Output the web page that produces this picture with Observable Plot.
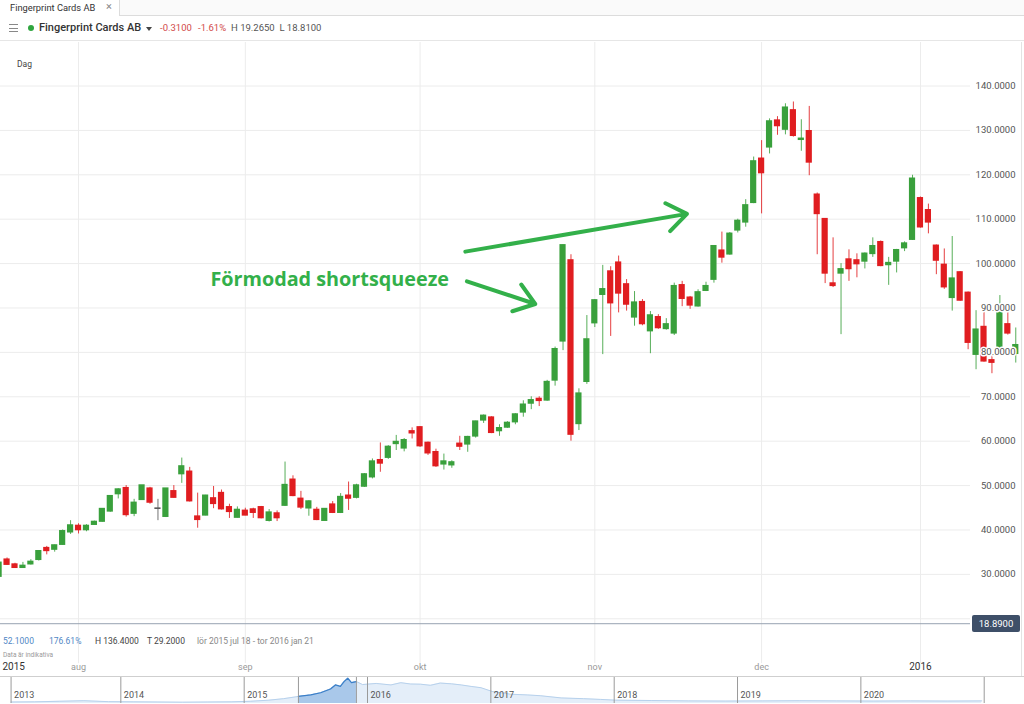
<!DOCTYPE html>
<html><head><meta charset="utf-8">
<script src="https://cdn.jsdelivr.net/npm/d3@7"></script>
<script src="https://cdn.jsdelivr.net/npm/@observablehq/plot@0.6"></script>
<style>
html,body{margin:0;padding:0;background:#fff;}
body{width:1024px;height:704px;overflow:hidden;position:relative;font-family:Roboto,"Open Sans",sans-serif;}
.abs{position:absolute;white-space:nowrap;}
#tabbar{left:0;top:0;width:1024px;height:15px;background:#fafafa;border-bottom:1px solid #dcdcdc;}
#tab{left:0;top:0;width:119px;height:16px;background:#fff;border-right:1px solid #dcdcdc;}
#hdrline{left:0;top:40px;width:1024px;height:1px;background:#e6e6e6;}
.bar{position:absolute;left:9px;width:9px;height:1.3px;background:#888;}
#main{left:0;top:42px;}
#nav{left:0;top:677px;}
#navtop{left:0;top:676px;width:1024px;height:1px;background:#cfcfcf;}
#rightline{left:1021px;top:42px;width:1px;height:634px;background:#e3e3e3;}
#tag{left:972px;width:48px;height:17px;background:#3e4f68;color:#fff;font-size:9.5px;line-height:17px;text-align:center;border-radius:2px;}
.info{top:636px;font-size:8.5px;}
</style></head>
<body>
<div id="tabbar" class="abs"></div>
<div id="tab" class="abs">
  <span class="abs" style="left:10px;top:1.5px;font-size:9.3px;color:#333;">Fingerprint Cards AB</span>
  <span class="abs" style="left:106px;top:0px;font-size:11px;color:#888;">×</span>
</div>
<div class="bar" style="top:24px"></div><div class="bar" style="top:27.5px"></div><div class="bar" style="top:31px"></div>
<div class="abs" style="left:28px;top:25px;width:6px;height:6px;border-radius:50%;background:#2fa53f;"></div>
<span class="abs" style="left:39px;top:21px;font-size:11px;color:#333;font-weight:500;">Fingerprint Cards AB</span>
<div class="abs" style="left:146px;top:27px;width:0;height:0;border-left:3px solid transparent;border-right:3px solid transparent;border-top:4px solid #444;"></div>
<span class="abs" style="left:160px;top:22px;font-size:9.5px;color:#d24b4b;">-0.3100</span>
<span class="abs" style="left:198px;top:22px;font-size:9.5px;color:#d24b4b;">-1.61%</span>
<span class="abs" style="left:231px;top:22px;font-size:9.5px;color:#555;">H 19.2650&nbsp; L 18.8100</span>
<div id="hdrline" class="abs"></div>
<span class="abs" style="left:17px;top:59px;font-size:8.5px;color:#444;">Dag</span>

<div id="main" class="abs"></div>
<div id="rightline" class="abs"></div>
<div id="tag" class="abs"></div>

<span class="abs info" style="left:3px;color:#4f87c5;">52.1000</span>
<span class="abs info" style="left:49px;color:#4f87c5;">176.61%</span>
<span class="abs info" style="left:95px;color:#444;">H 136.4000</span>
<span class="abs info" style="left:147px;color:#444;">T 29.2000</span>
<span class="abs info" style="left:197px;color:#888;">lör 2015 jul 18 - tor 2016 jan 21</span>
<span class="abs" style="left:3px;top:651px;font-size:6.5px;color:#999;">Data är indikativa</span>

<div id="navtop" class="abs"></div>
<div id="nav" class="abs"></div>

<script>
// ---- daily candles, Fingerprint Cards AB, 2015-07-20 .. 2016-01-21 (index = trading day) ----
const open = [29.5,33.3,32.2,31.5,32.3,33.3,35.9,35.6,36.7,39.5,40.9,40.0,41.2,41.9,44.2,48.1,49.4,43.7,46.8,49.3,
44.8,43.0,48.7,52.6,53.1,43.0,43.3,47.1,48.3,45.1,42.8,44.3,44.6,45.1,42.1,43.7,45.5,51.3,47.0,44.9,
44.5,42.1,45.7,43.9,47.7,47.3,49.8,51.9,55.7,56.3,59.4,58.4,62.2,63.1,59.6,57.5,54.8,54.6,59.4,59.3,
61.1,64.7,65.3,62.3,63.1,64.3,66.5,68.5,69.5,69.2,73.7,82.5,100.7,63.9,73.4,86.6,93.0,98.2,100.2,95.3,
87.9,91.3,84.8,87.9,85.3,84.3,95.1,92.3,90.4,93.9,96.4,102.9,102.1,107.5,109.3,113.7,123.6,126.2,132.2,130.2,
134.5,127.9,129.8,115.5,110.0,95.5,97.8,100.9,100.7,100.5,102.2,104.8,99.7,100.5,103.5,105.4,114.7,112.0,104.0,99.7,
92.3,98.0,93.4,79.5,85.7,78.2,80.8,86.3,79.7];
const close = [32.6,32.2,31.5,31.9,32.8,35.2,35.3,36.5,39.7,41.0,40.0,40.9,41.8,44.7,47.6,49.1,43.4,46.1,50.0,46.2,
44.8,49.3,47.3,54.3,46.5,42.3,47.7,45.9,44.7,44.1,44.5,43.3,43.9,42.7,43.9,42.7,50.1,47.7,45.1,46.4,
42.3,44.7,43.9,47.4,47.1,50.0,52.5,55.4,55.0,58.7,59.8,60.2,61.8,58.9,57.3,54.4,55.4,55.2,58.8,60.9,
64.4,65.7,61.9,62.9,64.1,66.0,68.2,69.2,69.1,73.3,80.7,104.1,61.5,70.7,82.9,91.7,94.2,91.1,93.3,90.8,
91.2,86.4,88.3,85.5,86.3,94.9,92.1,90.6,93.5,94.9,103.9,101.4,106.7,109.6,113.1,123.0,120.4,132.0,131.0,135.1,
128.8,128.1,122.8,111.2,97.8,95.0,98.7,98.8,99.9,102.2,103.9,99.5,100.1,103.0,104.5,119.1,108.2,109.3,100.7,94.7,
96.6,91.7,82.2,85.1,78.0,77.7,89.0,84.3,81.6];
const high = [32.8,33.7,32.5,32.7,33.3,35.3,36.3,36.6,40.0,42.1,41.4,41.2,42.0,44.8,47.7,49.3,50.0,46.9,50.0,49.6,
46.9,49.3,50.0,56.2,54.1,48.3,47.8,49.8,49.0,45.8,45.2,44.9,44.9,45.3,44.6,44.3,55.3,52.2,48.7,46.6,
45.1,44.8,46.4,48.2,50.8,50.3,52.7,56.0,59.6,59.0,61.3,60.6,63.0,63.3,59.8,58.2,57.1,55.6,61.1,61.1,
64.5,65.9,65.5,63.7,64.4,66.2,69.1,70.0,70.0,73.7,81.2,104.2,102.0,71.8,88.3,91.9,99.6,99.3,101.7,96.4,
93.7,91.9,89.2,88.5,87.6,95.6,96.0,92.6,94.1,95.8,104.0,107.1,107.0,110.0,114.4,124.0,127.7,132.6,133.1,136.0,
136.4,132.4,135.4,115.9,110.1,105.8,100.0,103.1,102.2,102.4,105.8,105.1,101.4,103.2,104.9,119.9,115.0,113.4,104.2,103.3,
106.1,98.2,93.6,89.4,89.0,79.3,92.8,89.0,85.5];
const low = [29.2,32.0,31.4,31.4,32.1,33.0,34.4,35.0,36.6,39.0,39.1,39.6,41.1,41.8,44.0,47.0,42.9,43.0,46.7,45.8,
42.1,42.8,47.2,50.5,46.3,40.4,43.2,44.8,44.5,42.6,42.7,43.2,42.6,42.5,41.8,41.9,45.3,47.5,44.6,43.1,
42.1,42.0,43.7,43.7,44.4,47.0,49.6,51.5,53.0,55.9,57.9,57.6,60.5,58.6,56.8,54.1,53.5,53.9,57.9,57.5,
60.7,64.0,61.7,61.1,62.9,63.7,65.4,67.1,67.8,69.0,72.4,80.4,60.0,62.4,72.8,85.6,79.5,83.6,88.9,89.3,
85.9,86.0,79.7,85.2,85.0,83.8,90.3,89.7,90.2,93.7,95.6,100.1,101.9,106.9,108.2,113.5,111.2,124.7,128.9,129.0,
128.5,125.3,119.8,102.0,95.5,94.6,84.0,96.0,96.8,98.8,101.4,99.3,95.1,97.9,102.7,105.2,108.0,106.7,97.5,94.2,
89.3,91.5,80.6,76.1,77.8,75.2,80.5,83.9,77.6];
const lastPrice = 18.89;
const yTicks = [30,40,50,60,70,80,90,100,110,120,130,140];
const gridTicks = [20,30,40,50,60,70,80,90,100,110,120,130,140];
const monthTickIdx = [10,31,53,75,96,116];          // first trading day of each month
const monthLabels = ["aug","sep","okt","nov","dec","2016"];
const startLabel = "2015";
const annotationText = "Förmodad shortsqueeze";
const annotationAt = [{x: 26.6, y: 96.4}];
const arrowsData = [
  {x1: 58.7, y1: 102.7, x2: 86.6, y2: 111.2},
  {x1: 58.9, y1: 96.0, x2: 67.5, y2: 90.9}
];
// ---- navigator (history overview) ----
const navT = [2013.11,2013.3,2013.5,2013.7,2013.9,2014.1,2014.3,2014.5,2014.7,2014.9,2015.05,2015.2,2015.32,2015.44,2015.54,
2015.62,2015.7,2015.74,2015.78,2015.81,2015.84,2015.87,2015.91,2015.96,2016.07,2016.19,2016.27,2016.35,2016.43,2016.51,
2016.59,2016.68,2016.76,2016.84,2016.92,2017.01,2017.16,2017.3,2017.4,2017.57,2017.75,2017.89,2018.01,2018.3,2018.6,
2018.9,2019.2,2019.5,2019.8,2020.1,2020.4,2020.7,2020.98];
const navV = [8,9,12,15,10,9,8,7,8,9,12,18,26,38,46,58,78,100,92,118,136,112,118,102,108,100,112,105,104,98,110,106,100,92,85,
65,50,46,42,30,26,22,18,16,14,13,14,15,14,13,14,13,14];
const navStart = 2013.11;
const navYears = [2014,2015,2016,2017,2018,2019,2020,2021];
const navYearLabels = ["2013","2014","2015","2016","2017","2018","2019","2020"];
const navSelection = [2015.44, 2015.91];

const GREEN = "#39a03c", RED = "#e01d20", GREY = "#5a5a5a";
const candles = open.map((o, i) => ({i, o, c: close[i], h: high[i], l: low[i]}));
const colorOf = d => d.c > d.o ? GREEN : d.c < d.o ? RED : GREY;
const isYear = s => /^\d{4}$/.test(s);
const months = monthTickIdx.map((x, k) => ({x, label: monthLabels[k]}));

const chart = Plot.plot({
  width: 1024, height: 634,
  marginTop: 0, marginBottom: 0, marginLeft: 0, marginRight: 54,
  x: {domain: [0.176, 122.3], axis: null},
  y: {domain: [7.0, 149.8], axis: null},
  style: {fontFamily: "Roboto, sans-serif", background: "transparent", overflow: "visible"},
  marks: [
    Plot.ruleY(gridTicks, {stroke: "#ececec"}),
    Plot.ruleX(months, {x: "x", y1: 9.9, y2: 149.8, stroke: "#ececec"}),
    Plot.ruleY([lastPrice], {stroke: "#97a3b2"}),
    Plot.ruleX(candles, {x: "i", y1: "l", y2: "h", stroke: colorOf, strokeWidth: 1, strokeOpacity: 0.85}),
    Plot.rect(candles, {
      x1: d => d.i - 0.39, x2: d => d.i + 0.39,
      y1: d => Math.min(d.o, d.c), y2: d => Math.max(d.o, d.c),
      fill: colorOf, insetTop: -0.8, insetBottom: -0.8
    }),
    Plot.text(yTicks, {y: d => d, text: d => d.toFixed(4), frameAnchor: "right", dx: 45, textAnchor: "end",
      fill: "#555", stroke: "white", strokeWidth: 3, fontSize: 9.5}),
    Plot.text(months.filter(d => !isYear(d.label)), {x: "x", text: "label", frameAnchor: "bottom", dy: -7, fill: "#999", fontSize: 9}),
    Plot.text(months.filter(d => isYear(d.label)), {x: "x", text: "label", frameAnchor: "bottom", dy: -7, fill: "#333", fontSize: 10}),
    Plot.text([startLabel], {text: d => d, frameAnchor: "bottom-left", dx: 2, dy: -7, textAnchor: "start", fill: "#333", fontSize: 10}),
    Plot.arrow(arrowsData, {x1: "x1", y1: "y1", x2: "x2", y2: "y2", stroke: "#33b04a", strokeWidth: 4, headLength: 9, headAngle: 72}),
    Plot.text(annotationAt, {x: "x", y: "y", text: () => annotationText, textAnchor: "start", fill: "#33b04a",
      fontSize: 19.8, fontWeight: "bold", fontFamily: "Open Sans, sans-serif"})
  ]
});
document.getElementById("main").appendChild(chart);
const py = chart.scale("y").apply(lastPrice);
const tag = document.getElementById("tag");
tag.textContent = lastPrice.toFixed(4);
tag.style.top = (42 + py - 8.5) + "px";

const navData = navT.map((t, k) => ({t, v: navV[k]}));
const sel = navData.filter(d => d.t >= navSelection[0] && d.t <= navSelection[1]);
const navLabelPos = [navStart, ...navYears.slice(0, navYearLabels.length - 1)].map((t, k) => ({t, label: navYearLabels[k]}));
const nav = Plot.plot({
  width: 1024, height: 27, marginTop: 0, marginBottom: 1, marginLeft: 0, marginRight: 0,
  x: {domain: [2013, 2021], range: [-3, 983.7], axis: null},
  y: {domain: [0, 140], axis: null},
  style: {fontFamily: "Roboto, sans-serif", background: "transparent", overflow: "visible"},
  marks: [
    Plot.areaY(navData, {x: "t", y: "v", fill: "#e4eef9"}),
    Plot.lineY(navData, {x: "t", y: "v", stroke: "#b7d1ec", strokeWidth: 1}),
    Plot.areaY(sel, {x: "t", y: "v", fill: "#a9c8ea"}),
    Plot.lineY(sel, {x: "t", y: "v", stroke: "#3b7fc8", strokeWidth: 1.2}),
    Plot.ruleX([navStart, ...navYears], {stroke: "#9a9a9a"}),
    Plot.ruleX(navSelection, {stroke: "#9a9a9a"}),
    Plot.text(navLabelPos, {x: "t", text: "label", frameAnchor: "bottom", dy: -6, dx: 3, textAnchor: "start", fill: "#555", fontSize: 9})
  ]
});
document.getElementById("nav").appendChild(nav);
</script>
</body></html>
